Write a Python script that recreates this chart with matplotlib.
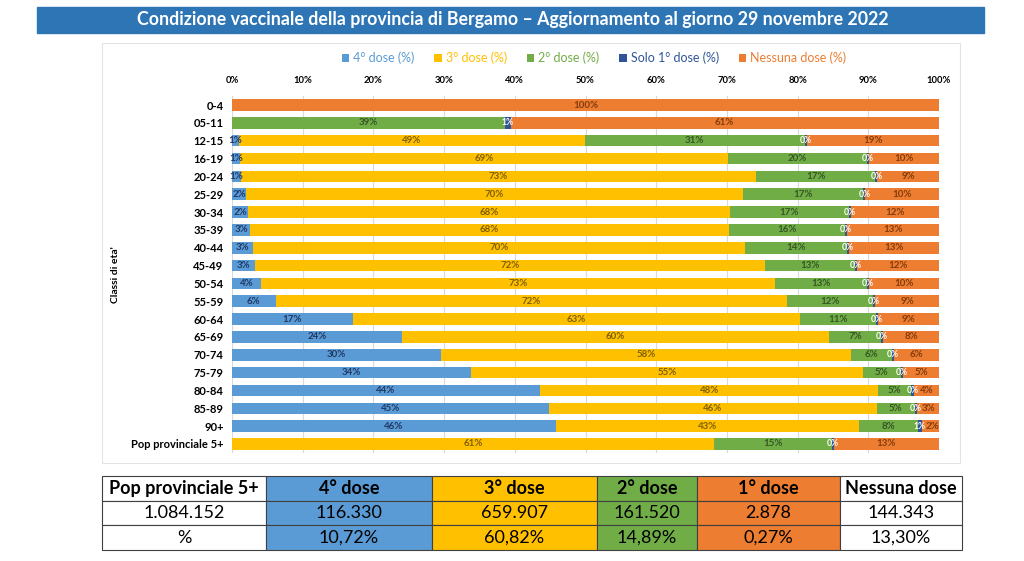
import numpy as np
import matplotlib.pyplot as plt
from matplotlib.patches import Rectangle

plt.rcParams['font.family'] = ['Lato', 'DejaVu Sans']

# dati (% per classe di eta')
classi = ['0-4', '05-11', '12-15', '16-19', '20-24', '25-29', '30-34', '35-39',
          '40-44', '45-49', '50-54', '55-59', '60-64', '65-69', '70-74', '75-79',
          '80-84', '85-89', '90+', 'Pop provinciale 5+']
dose4 = [0, 0, 1.0, 1.2, 1.3, 2.0, 2.3, 2.6, 2.9, 3.3, 4.1, 6.2, 17.1, 24.0, 29.6,
         33.8, 43.6, 44.8, 45.8, 0]
dose3 = [0, 0, 48.9, 69.0, 72.8, 70.3, 68.1, 67.7, 69.7, 72.1, 72.7, 72.3, 63.4,
         60.4, 57.9, 55.4, 47.9, 46.4, 42.9, 60.82]
dose2 = [0, 38.6, 31.1, 19.6, 16.9, 17.0, 16.9, 16.4, 14.4, 12.7, 13.0, 12.2, 10.8,
         7.4, 5.8, 5.4, 4.7, 5.4, 8.3, 14.89]
dose1 = [0, 0.8, 0.3, 0.3, 0.3, 0.3, 0.3, 0.3, 0.3, 0.3, 0.3, 0.3, 0.3, 0.3, 0.3,
         0.3, 0.3, 0.3, 0.6, 0.27]
nessuna = [100, 60.6, 18.7, 9.9, 8.7, 10.4, 12.4, 13.0, 12.7, 11.6, 9.9, 9.0, 8.6,
           7.9, 6.4, 5.1, 3.6, 3.1, 2.4, 13.30]

serie = ['4° dose (%)', '3° dose (%)', '2° dose (%)', 'Solo 1° dose (%)', 'Nessuna dose (%)']
colori = ['#5B9BD5', '#FFC000', '#70AD47', '#2F5597', '#ED7D31']
col_etichette = ['#1F3864', '#7F6000', '#375623', '#FFFFFF', '#843C0C']

# tabella riassuntiva
tab_header = ['Pop provinciale 5+', '4° dose', '3° dose', '2° dose', '1° dose', 'Nessuna dose']
tab_numeri = ['1.084.152', '116.330', '659.907', '161.520', '2.878', '144.343']
tab_perc = ['%', '10,72%', '60,82%', '14,89%', '0,27%', '13,30%']
tab_colori = ['white', '#5B9BD5', '#FFC000', '#70AD47', '#ED7D31', 'white']


def main():
    W, H = 1024, 561
    fig = plt.figure(figsize=(W / 100, H / 100), dpi=100)

    # banda del titolo
    fig.patches.append(Rectangle((37 / W, 1 - 33 / H), 947 / W, 26 / H,
                                 transform=fig.transFigure, color='#2E75B6', zorder=0))
    fig.text(513 / W, 1 - 20 / H,
             'Condizione vaccinale della provincia di Bergamo \u2013 Aggiornamento al giorno 29 novembre 2022',
             color='white', fontsize=12.8, fontweight='bold', ha='center', va='center')

    # cornice del grafico
    fig.patches.append(Rectangle((102 / W, 1 - 463 / H), 858 / W, 420 / H,
                                 transform=fig.transFigure, facecolor='none',
                                 edgecolor='#E3E3E3', lw=0.8, zorder=0))

    ax = fig.add_axes([232 / W, 1 - 452.9 / H, 707 / W, 356.8 / H])
    dati = np.array([dose4, dose3, dose2, dose1, nessuna], dtype=float)
    tot = dati.sum(axis=0)
    norm = dati / tot * 100
    y = np.arange(len(classi))
    left = np.zeros(len(classi))
    handles = []
    for k in range(5):
        b = ax.barh(y, norm[k], left=left, height=0.65, color=colori[k], zorder=2)
        handles.append(b)
        fs = 6.2 if k == 3 else 7
        for i in range(len(classi)):
            if dati[k, i] > 0:
                xc, ha = left[i] + norm[k, i] / 2, 'center'
                if k == 4 and norm[k, i] < 3:
                    # segmento stretto in fondo: etichetta allineata alla fine della barra
                    xc, ha = left[i] + norm[k, i], 'right'
                ax.text(xc, y[i], f'{dati[k, i]:.0f}%',
                        ha=ha, va='center', fontsize=fs, fontweight='bold',
                        color=col_etichette[k], zorder=3)
        left += norm[k]

    ax.set_xlim(0, 100)
    ax.set_ylim(len(classi) - 0.5, -0.5)
    ax.xaxis.tick_top()
    ax.set_xticks(np.arange(0, 101, 10))
    ax.set_xticklabels([f'{t}%' for t in range(0, 101, 10)], fontsize=6.8, fontweight='bold')
    ax.set_yticks(y)
    ax.set_yticklabels(classi, fontsize=8, fontweight='bold')
    ax.tick_params(axis='both', length=0)
    ax.tick_params(axis='x', pad=8)
    ax.tick_params(axis='y', pad=6)
    ax.grid(axis='x', color='#D9D9D9', lw=0.8, zorder=0)
    ax.set_axisbelow(True)
    for s in ax.spines.values():
        s.set_visible(False)

    fig.text(116 / W, 1 - 275 / H, "Classi di eta'", rotation=90, fontsize=7.5,
             fontweight='bold', ha='center', va='center')

    leg = fig.legend(handles, serie, loc='center', bbox_to_anchor=(594 / W, 1 - 58 / H),
                     ncol=5, frameon=False, fontsize=9, handlelength=0.6, handleheight=0.6,
                     handletextpad=0.3, columnspacing=1.6)
    for t, c in zip(leg.get_texts(), colori):
        t.set_color(c)

    # tabella
    tax = fig.add_axes([102 / W, 1 - 550 / H, 860 / W, 74 / H])
    tax.axis('off')
    larg = np.array([164, 166, 165, 100, 143, 122]) / 860
    tbl = tax.table(cellText=[tab_header, tab_numeri, tab_perc],
                    cellColours=[tab_colori] * 3, colWidths=larg,
                    cellLoc='center', bbox=[0, 0, 1, 1])
    tbl.auto_set_font_size(False)
    for (r, c), cell in tbl.get_celld().items():
        cell.set_edgecolor('#404040')
        cell.set_linewidth(0.8)
        cell.get_text().set_fontsize(13)
        if r == 0:
            cell.get_text().set_fontweight('bold')

    fig.savefig('out.png', dpi=100)


if __name__ == "__main__":
    main()
